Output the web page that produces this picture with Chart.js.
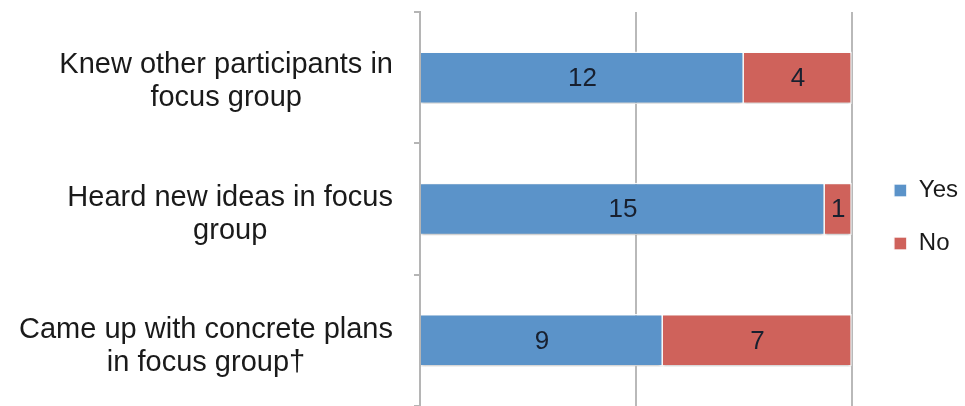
<!DOCTYPE html>
<html>
<head>
<meta charset="utf-8">
<script src="https://cdn.jsdelivr.net/npm/chart.js@4/dist/chart.umd.min.js"></script>
<style>
  html, body { margin: 0; padding: 0; background: #ffffff; }
  #wrap { width: 965px; height: 406px; }
</style>
</head>
<body>
<div id="wrap"><canvas id="c" width="965" height="406"></canvas></div>
<script>
const categories = [
  ["Knew other participants in", "focus group"],
  ["Heard new ideas in focus", "group"],
  ["Came up with concrete plans", "in focus group\u2020"]
];
const yesValues = [12, 15, 9];
const noValues = [4, 1, 7];
const seriesNames = ["Yes", "No"];
const xTicks = [0, 8, 16];

const FONT = "'Liberation Sans', Arial, Helvetica, sans-serif";

const barLabels = {
  id: 'barLabels',
  beforeDatasetsDraw(chart) {
    const ctx = chart.ctx;
    ctx.save();
    ctx.shadowColor = 'rgba(0,0,0,0.22)';
    ctx.shadowOffsetY = 2;
    ctx.shadowBlur = 3;
  },
  afterDatasetsDraw(chart) {
    const ctx = chart.ctx;
    ctx.restore();
    ctx.save();
    ctx.font = "26px " + FONT;
    ctx.fillStyle = '#18202f';
    ctx.textAlign = 'center';
    ctx.textBaseline = 'middle';
    chart.data.datasets.forEach((ds, di) => {
      const meta = chart.getDatasetMeta(di);
      meta.data.forEach((bar, i) => {
        const p = bar.getProps(['x', 'y', 'base'], true);
        const cx = (p.x + p.base) / 2;
        ctx.fillText(String(ds.data[i]), cx, p.y + 1);
      });
    });
    ctx.restore();
  }
};

const catLabels = {
  id: 'catLabels',
  afterDraw(chart) {
    const ctx = chart.ctx;
    const scale = chart.scales.y;
    ctx.save();
    ctx.font = "29px " + FONT;
    ctx.fillStyle = '#1a1a1a';
    ctx.textAlign = 'center';
    ctx.textBaseline = 'middle';
    const right = 393;
    const lh = 33;
    scale.getLabels().forEach((lab, i) => {
      const lines = Array.isArray(lab) ? lab : [lab];
      const maxW = Math.max(...lines.map(l => ctx.measureText(l).width));
      const cx = right - maxW / 2;
      const cy = scale.getPixelForTick(i) + 4 + i;
      const startY = cy - (lines.length - 1) * lh / 2;
      lines.forEach((l, k) => ctx.fillText(l, cx, startY + k * lh));
    });
    ctx.restore();
  }
};

const legendShift = {
  id: 'legendShift',
  afterLayout(chart) {
    const lg = chart.legend;
    if (!lg) return;
    lg.left += 13; lg.right += 13;
    lg.top += 8; lg.bottom += 8;
  }
};

new Chart(document.getElementById('c'), {
  type: 'bar',
  data: {
    labels: categories,
    datasets: [
      { label: seriesNames[0], data: yesValues, backgroundColor: '#5b93c9', borderColor: 'rgba(255,255,255,0.9)', borderWidth: 1.5 },
      { label: seriesNames[1], data: noValues, backgroundColor: '#cf625b', borderColor: 'rgba(255,255,255,0.9)', borderWidth: 1.5 }
    ]
  },
  options: {
    indexAxis: 'y',
    responsive: false,
    animation: false,
    devicePixelRatio: 1,
    layout: { padding: { top: 12, bottom: 0, left: 0, right: 10 } },
    datasets: { bar: { categoryPercentage: 1, barPercentage: 0.4 } },
    scales: {
      x: {
        stacked: true,
        min: xTicks[0],
        max: xTicks[xTicks.length - 1],
        afterBuildTicks(s) { s.ticks = xTicks.map(v => ({ value: v })); },
        ticks: { display: false },
        grid: { color: '#b9b9b9', lineWidth: 2, drawTicks: false },
        border: { display: false }
      },
      y: {
        stacked: true,
        ticks: { display: false },
        grid: { drawOnChartArea: false, drawTicks: true, tickLength: 6, color: '#b5b5b5', lineWidth: 2, offset: true },
        border: { display: true, color: '#b5b5b5', width: 2 },
        afterFit(s) { s.width = 420; }
      }
    },
    plugins: {
      legend: {
        position: 'right',
        labels: {
          boxWidth: 13,
          boxHeight: 13,
          padding: 29,
          color: '#1a1a1a',
          font: { family: FONT, size: 24 }
        }
      },
      tooltip: { enabled: false }
    }
  },
  plugins: [barLabels, catLabels, legendShift]
});
</script>
</body>
</html>
